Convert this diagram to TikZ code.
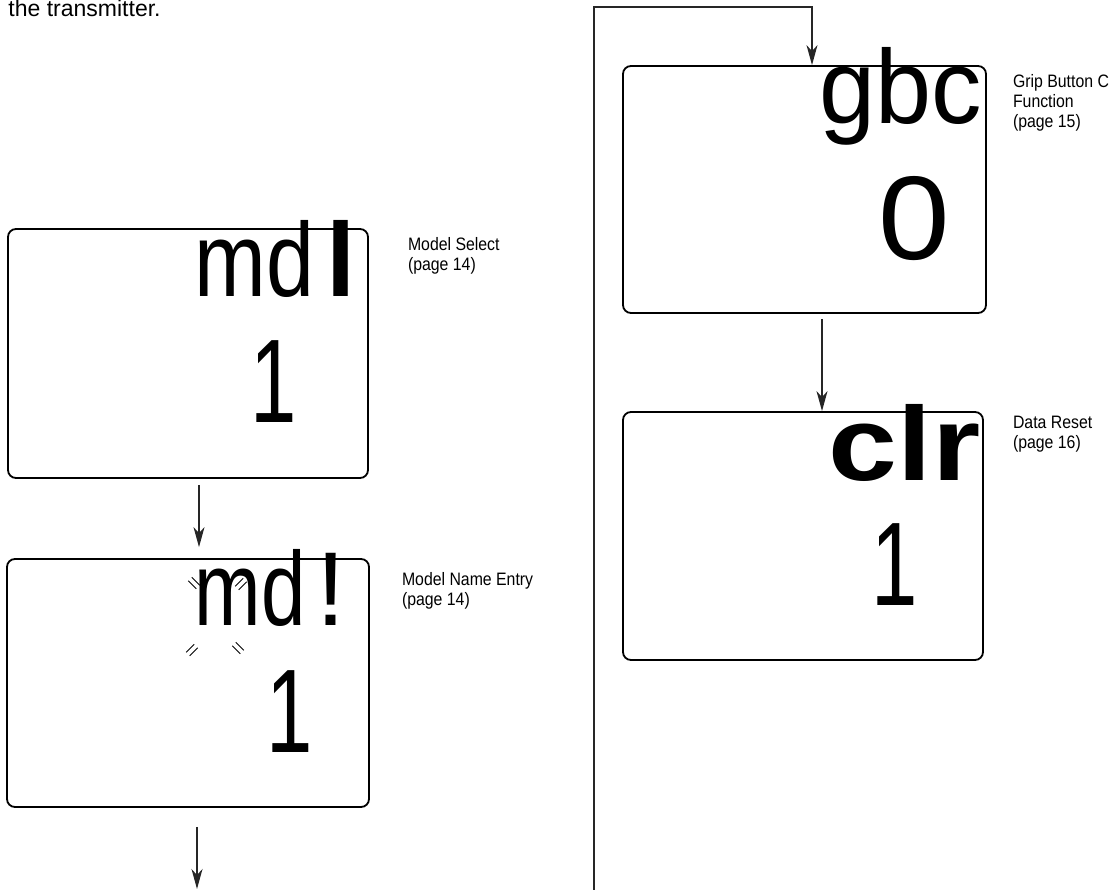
\documentclass[tikz,border=0pt]{standalone}
\usepackage{fontspec}
\usepackage{graphicx}
\setmainfont{Liberation Sans}
\usetikzlibrary{arrows.meta}
\begin{document}
\begin{tikzpicture}[x=1pt,y=-1pt,
  lcd/.style={draw=black, line width=1.8pt, rounded corners=8pt, inner sep=0pt},
  disp/.style={inner sep=0pt, outer sep=0pt},
  lbl/.style={inner sep=0pt, outer sep=0pt, anchor=base west},
  conn/.style={draw=black!85, line width=1.3pt},
  arr/.style={conn, -{Stealth[length=20pt,width=11pt,inset=6pt]}},
  blinkline/.style={draw=black, line width=0.9pt}
]
\useasboundingbox (0,0) rectangle (1115,890);

% top text
\node[lbl] (top) at (8.5,17) {\fontsize{23}{23}\selectfont the transmitter.};

% boxes
\node[lcd, minimum width=360pt, minimum height=249pt] (mdl) at (188,353.5) {};
\node[lcd, minimum width=362pt, minimum height=248pt] (mdn) at (188,683) {};
\node[lcd, minimum width=363pt, minimum height=247pt] (gbc) at (804.5,189.5) {};
\node[lcd, minimum width=360pt, minimum height=248pt] (clr) at (803,536) {};

% display texts
\node[disp, anchor=base west] (mdlA) at (194.3,297) {\fontsize{105}{105}\selectfont\scalebox{0.82}[1]{md}};
\node[disp, anchor=base west] (mdlB) at (326,297) {\fontsize{105}{105}\selectfont\bfseries l};
\node[disp, anchor=base] (mdlN) at (274,422) {\fontsize{119}{119}\selectfont\scalebox{0.7}[1]{1}};

\node[disp, anchor=base west] (mdnA) at (194.7,625) {\fontsize{105}{105}\selectfont\scalebox{0.76}[1]{md}};
\node[disp, anchor=base] (mdnB) at (331,625) {\fontsize{105}{105}\selectfont !};
\node[disp, anchor=base] (mdnN) at (290,752) {\fontsize{119}{119}\selectfont\scalebox{0.7}[1]{1}};

\node[disp, anchor=base west] (gbcA) at (819.5,124) {\fontsize{105}{105}\selectfont\scalebox{0.96}[1]{gbc}};
\node[disp, anchor=base] (gbcN) at (914,260) {\fontsize{119}{119}\selectfont\scalebox{1.08}[1]{0}};

\node[disp, anchor=base west] (clrA) at (828.7,480) {\fontsize{105}{105}\selectfont\bfseries\scalebox{1.18}[1]{clr}};
\node[disp, anchor=base] (clrN) at (895,605) {\fontsize{119}{119}\selectfont\scalebox{0.7}[1]{1}};

% blink marks
\foreach \cx/\cy/\s in {194/583/1, 241/584/-1, 192/650/-1, 238/648/1}{
  \foreach \d in {-1.8,1.8}{
    \draw[blinkline] (\cx-4+\d, \cy-4*\s-\d*\s) -- (\cx+4+\d, \cy+4*\s-\d*\s);
  }
}

% labels
\node[lbl] (l1) at (408,251) {\fontsize{18}{20}\selectfont\scalebox{0.88}[1]{\begin{tabular}[t]{@{}l@{}}Model Select\\(page 14)\end{tabular}}};
\node[lbl] (l2) at (402,585) {\fontsize{18}{20}\selectfont\scalebox{0.88}[1]{\begin{tabular}[t]{@{}l@{}}Model Name Entry\\(page 14)\end{tabular}}};
\node[lbl] (l3) at (1013,88) {\fontsize{18}{20}\selectfont\scalebox{0.88}[1]{\begin{tabular}[t]{@{}l@{}}Grip Button C\\Function\\(page 15)\end{tabular}}};
\node[lbl] (l4) at (1013,428) {\fontsize{18}{20}\selectfont\scalebox{0.88}[1]{\begin{tabular}[t]{@{}l@{}}Data Reset\\(page 16)\end{tabular}}};

% connectors
\draw[arr] ([shift={(11,6)}]mdl.south) -- ([shift={(11,-11)}]mdn.north);
\coordinate (bend) at (197,889);
\draw[arr] ([shift={(9,19)}]mdn.south) -- (bend);
\draw[arr] ([shift={(17.5,5)}]gbc.south) coordinate (g1) -- (g1 |- clr.north);
\coordinate (lb) at (594,890);
\coordinate (lt) at (594,7);
\draw[arr] (lb) -- (lt) -| ([xshift=7.5]gbc.north);
\end{tikzpicture}
\end{document}
